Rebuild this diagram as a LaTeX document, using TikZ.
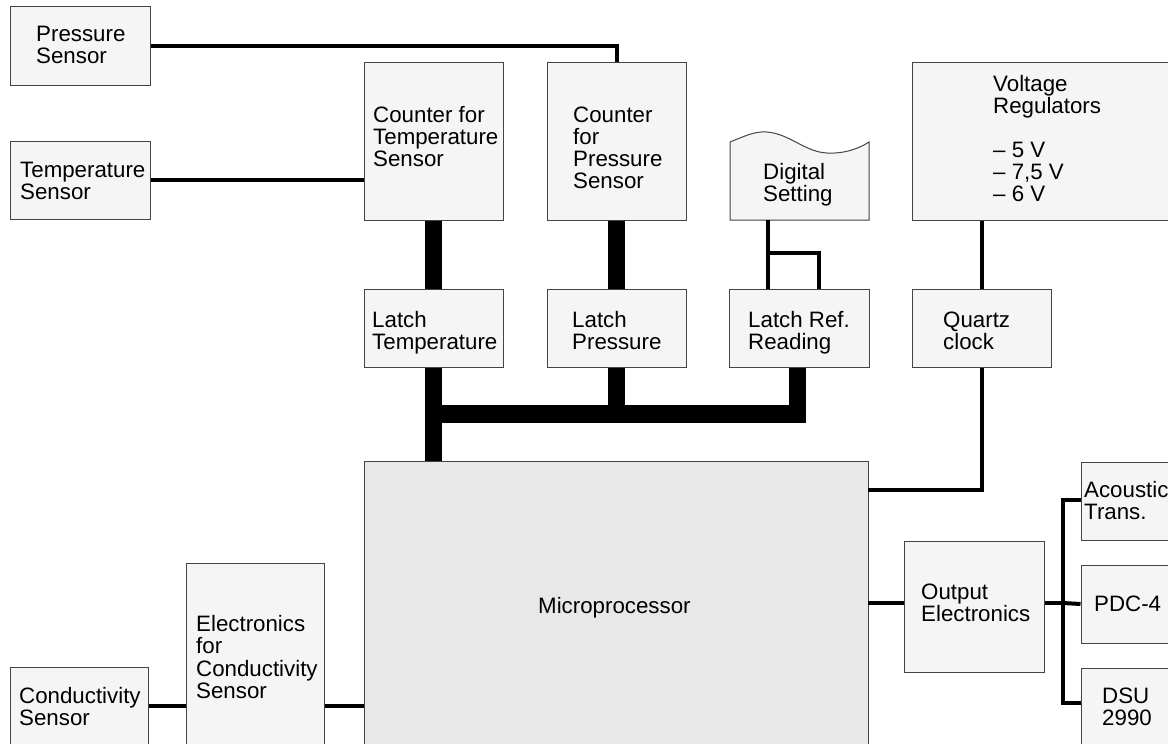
\documentclass[tikz,border=0pt]{standalone}
\usepackage{fontspec}
\setmainfont{Liberation Sans}
\usetikzlibrary{calc}
\definecolor{boxfill}{HTML}{F5F5F5}
\definecolor{mpfill}{HTML}{E8E8E8}
\definecolor{boxline}{HTML}{444444}
\newcommand\mylines[1]{\begin{tabular}[t]{@{}l@{}}#1\end{tabular}}
\tikzset{
  box/.style={draw=boxline, fill=boxfill, line width=1pt, inner sep=0pt},
  wire/.style={line width=4pt, black},
  busline/.style={line width=17.5pt, black},
  txt/.style={anchor=base west, inner sep=0pt, font=\fontsize{22.3}{22}\selectfont},
}
\begin{document}
\begin{tikzpicture}[x=1pt,y=-1pt]
\useasboundingbox (0,0) rectangle (1168,744);
\clip (0,0) rectangle (1168,744);
\fill[white] (0,0) rectangle (1168,744);
% boxes
\node[box, minimum width=140pt, minimum height=79pt] (ps) at (80,45.5) {};
\node[box, minimum width=140pt, minimum height=78pt] (ts) at (80,180) {};
\node[box, minimum width=139pt, minimum height=158pt] (ct) at (433.5,141) {};
\node[box, minimum width=139pt, minimum height=158pt] (cp) at (616.5,141) {};
\node[box, minimum width=288pt, minimum height=158pt] (vr) at (1056,141) {};
\node[box, minimum width=139pt, minimum height=78pt] (lt) at (433.5,328) {};
\node[box, minimum width=139pt, minimum height=78pt] (lp) at (616.5,328) {};
\node[box, minimum width=140pt, minimum height=78pt] (lr) at (799,328) {};
\node[box, minimum width=139pt, minimum height=78pt] (qc) at (981.5,328) {};
\node[box, fill=mpfill, minimum width=504pt, minimum height=329pt] (mp) at (616,625.5) {};
\node[box, minimum width=140pt, minimum height=131pt] (oe) at (974,606.5) {};
\node[box, minimum width=119pt, minimum height=78pt] (at) at (1140.5,501) {};
\node[box, minimum width=119pt, minimum height=78pt] (pd) at (1140.5,604) {};
\node[box, minimum width=119pt, minimum height=122pt] (du) at (1140.5,729) {};
\node[box, minimum width=138pt, minimum height=123pt] (cs) at (79,728.5) {};
\node[box, minimum width=138pt, minimum height=227pt] (ec) at (255,676.5) {};
% digital setting (document shape)
\draw[draw=boxline, fill=boxfill, line width=1pt]
  (730,220) -- (730,142) .. controls (745,136) and (755,131) .. (767,132)
  .. controls (790,134) and (805,152) .. (827,153)
  .. controls (845,154) and (860,148) .. (869,142) -- (869,220) -- cycle;
\coordinate (dsb) at (768,220);
% texts
\node[txt] at (36,41) {\mylines{Pressure\\Sensor}};
\node[txt] at (20,177) {\mylines{Temperature\\Sensor}};
\node[txt] at (373,122) {\mylines{Counter for\\Temperature\\Sensor}};
\node[txt] at (573,122) {\mylines{Counter\\for\\Pressure\\Sensor}};
\node[txt] at (763,179) {\mylines{Digital\\Setting}};
\node[txt] at (993,91) {\mylines{Voltage\\Regulators\\ \\– 5 V\\– 7,5 V\\– 6 V}};
\node[txt] at (372,327) {\mylines{Latch\\Temperature}};
\node[txt] at (572,327) {\mylines{Latch\\Pressure}};
\node[txt] at (748,327) {\mylines{Latch Ref.\\Reading}};
\node[txt] at (943,327) {\mylines{Quartz\\clock}};
\node[txt] at (538,613) {Microprocessor};
\node[txt] at (921,599) {\mylines{Output\\Electronics}};
\node[txt] at (1084,497) {\mylines{Acoustic\\Trans.}};
\node[txt] at (1094,611) {PDC-4};
\node[txt] at (1102,703) {\mylines{DSU\\2990}};
\node[txt] at (19,703) {\mylines{Conductivity\\Sensor}};
\node[txt] at (196,631) {\mylines{Electronics\\for\\Conductivity\\Sensor}};
% thin connectors
\draw[wire] (ps.east) -| (cp.north);
\draw[wire] (ts.east) -- (ts.east -| ct.west);
\draw[wire] (dsb) -- (dsb |- lr.north);
\coordinate (loop) at (768,253);
\draw[wire] (loop) -| ($(lr.north)+(20,0)$);
\draw[wire] (qc.north |- vr.south) -- (qc.north);
\coordinate (clk) at (868,490);
\draw[wire] (qc.south) |- (clk);
\coordinate (mo) at (868,603);
\draw[wire] (mo) -- (mo -| oe.west);
\coordinate (ob) at (1063,603);
\draw[wire] (mo -| oe.east) -- (ob);
\coordinate (dl) at (1081,703);
\coordinate (al) at (1081,500);
\draw[wire] (al) -| (ob |- dl) -- (dl);
\draw[wire] (ob) -- (pd.west);
\coordinate (cl) at (0,706);
\draw[wire] (cs.east |- cl) -- (ec.west |- cl);
\draw[wire] (ec.east |- cl) -- (mp.west |- cl);
% buses
\coordinate (busL) at (434.5,414);
\coordinate (busR) at (797.5,414);
\draw[busline] (ct.south) -- (lt.north);
\draw[busline] (cp.south) -- (lp.north);
\draw[busline] (lt.south) -- (lt.south |- mp.north);
\draw[busline, line join=miter] (busL) -- (busR) -- (busR |- lr.south);
\draw[busline] (lp.south) -- ($(lp.south |- busL)+(0,9)$);
\end{tikzpicture}
\end{document}
